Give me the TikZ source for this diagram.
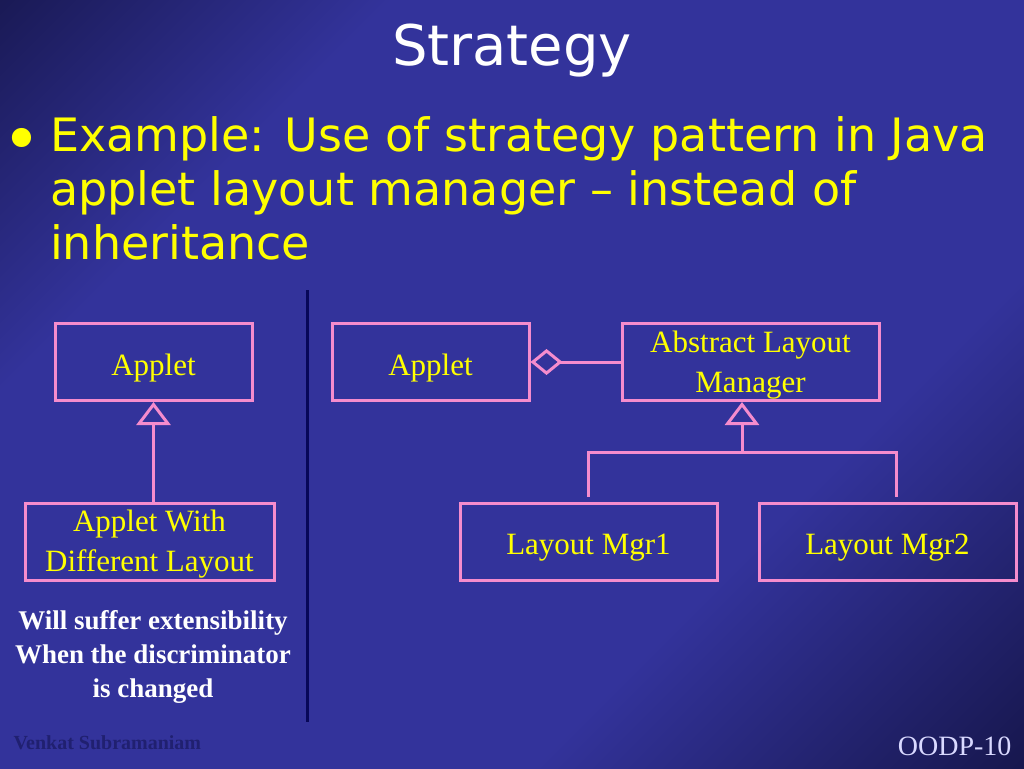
\documentclass[tikz,border=0pt]{standalone}
\usepackage{fontspec}
\setmainfont{Liberation Serif}
\newfontfamily\slideSans{DejaVu Sans}
\usetikzlibrary{positioning,arrows.meta}
\definecolor{slideDark}{RGB}{2,2,20}
\definecolor{slideBlue}{RGB}{51,51,155}
\definecolor{boxPink}{RGB}{245,140,205}
\definecolor{boxText}{RGB}{255,255,0}
\definecolor{dividerColor}{RGB}{8,8,88}
\definecolor{signColor}{RGB}{32,32,112}
\pgfdeclarehorizontalshading{slideGlow}{100bp}{color(0bp)=(slideDark); color(30bp)=(slideBlue); color(66bp)=(slideBlue); color(100bp)=(slideDark)}
\tikzstyle{slide} = [x = 1pt, y = -1pt]
\tikzstyle{umlBox} = [draw=boxPink, line width=3pt, text=boxText, font=\fontsize{31}{40}\selectfont, align=center, inner sep=0pt, minimum height=77pt]
\tikzstyle{umlLine} = [draw=boxPink, line width=3pt]
\tikzstyle{inheritTip} = [-{Triangle[open, length=23pt, width=34pt]}]
\tikzstyle{aggregateTip} = [{Diamond[open, length=32pt, width=26pt]}-]
\tikzstyle{bulletText} = [text=boxText, font=\slideSans\fontsize{46}{54}\selectfont, inner sep=0pt]
\newcommand{\slideBackground}{\shade [shading=slideGlow, shading angle=-45] (0,0) rectangle (1024,768);}
\newcommand{\lowered}[1][33pt]{\rule{0pt}{#1}}

\begin{document}
\begin{tikzpicture}[slide]
          \slideBackground
          \useasboundingbox (0,0) rectangle (1024,768);
          % title and bullet
          \node [text=white, font=\slideSans\fontsize{56}{60}\selectfont, anchor=base] (title) at (512,66) {Strategy};
          \node [bulletText, font=\slideSans\fontsize{66}{70}\selectfont, anchor=base] (bullet) at (22,162) {•};
          \node [bulletText, anchor=base west, align=left] (example) at (50,259)
            {Example: Use of strategy pattern in Java\\applet layout manager – instead of\\inheritance};

          % inheritance version
          \node [umlBox, minimum width=197pt] (appletBase) at (153.5,362) {\lowered Applet};
          \node [umlBox, minimum width=249pt] (appletSub) at (149.5,541.5) {\lowered[27pt]Applet With\\Different Layout};
          \draw [umlLine, inheritTip] (appletSub.north -| appletBase.south) -- (appletBase.south);
          \node [text=white, font=\bfseries\fontsize{27}{34}\selectfont, align=center] (remark) at (153,657)
            {Will suffer extensibility\\When the discriminator\\is changed};

          \draw [dividerColor, line width=3pt] (307,290) -- (307,722);

          % strategy version
          \node [umlBox, minimum width=197pt] (appletRight) at (430.5,362) {\lowered Applet};
          \node [umlBox, minimum width=257pt] (abstractMgr) at (750.5,362) {\lowered[27pt]Abstract Layout\\Manager};
          \node [umlBox, minimum width=257pt] (mgrOne) at (588.5,541.5) {\lowered Layout Mgr1};
          \node [umlBox, minimum width=257pt, right=39pt of mgrOne] (mgrTwo) {\lowered Layout Mgr2};
          \coordinate (busMid) at (742,452);
          \draw [umlLine, aggregateTip] (appletRight) -- (abstractMgr);
          \draw [umlLine, inheritTip] (busMid) -- (abstractMgr.south -| busMid);
          \draw [umlLine, shorten <=5pt, shorten >=5pt] (mgrOne.north) |- (busMid) -| ([xshift=9pt]mgrTwo.north);

          % footer
          \node [text=signColor, font=\bfseries\fontsize{20}{24}\selectfont, anchor=west] (author) at (10,743) {Venkat Subramaniam};
          \node [text=white!85!blue, font=\fontsize{28}{32}\selectfont, anchor=east] (pageNo) at (1015,746) {OODP-10};
        \end{tikzpicture}
\end{document}
